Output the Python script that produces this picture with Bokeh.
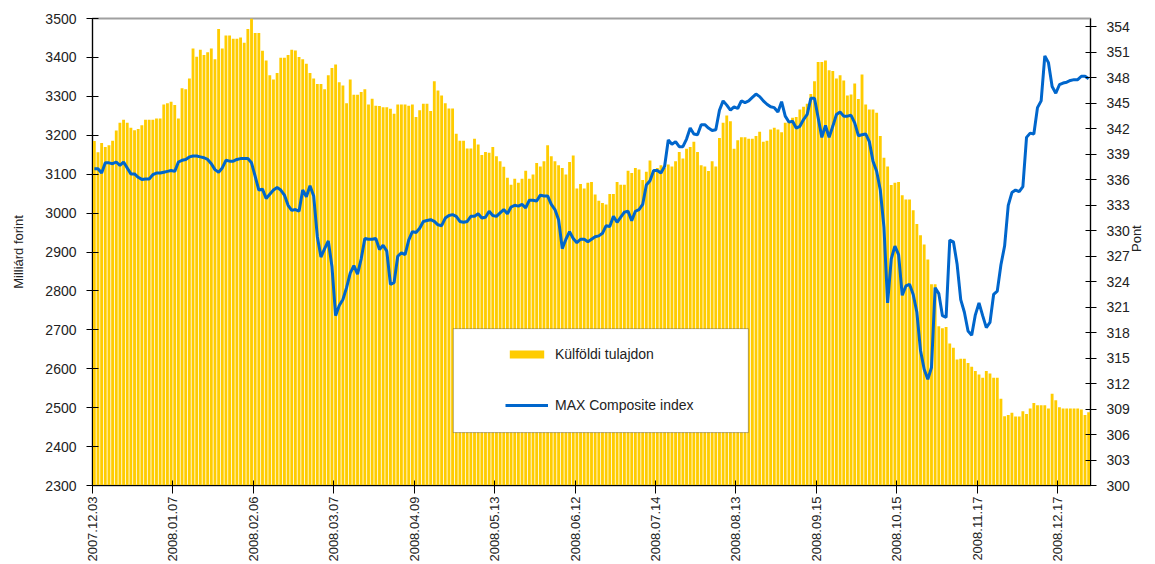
import math
from bokeh.plotting import figure
from bokeh.models import (Range1d, LinearAxis, FixedTicker, Legend, LegendItem,
                          BoxAnnotation, ColumnDataSource)
from bokeh.embed import file_html
from bokeh.resources import INLINE

# ---- data (daily values, business days 2007.12.03 - 2008.12.31) ----
tick_labels = ['2007.12.03', '2008.01.07', '2008.02.06', '2008.03.07', '2008.04.09',
               '2008.05.13', '2008.06.12', '2008.07.14', '2008.08.13', '2008.09.15',
               '2008.10.15', '2008.11.17', '2008.12.17']
tick_every = 22  # trading days between labelled ticks

# Külföldi tulajdon (Milliárd forint)
foreign_holdings = [
    3185, 3156, 3180, 3170, 3174, 3186, 3212, 3232, 3240, 3232, 3219, 3213, 3216, 3226, 3240,
    3240, 3240, 3243, 3243, 3279, 3282, 3286, 3278, 3243, 3321, 3318, 3346, 3423, 3402, 3420,
    3406, 3413, 3423, 3395, 3473, 3423, 3456, 3456, 3448, 3448, 3451, 3438, 3473, 3500, 3463,
    3463, 3417, 3392, 3354, 3343, 3360, 3399, 3399, 3406, 3420, 3418, 3401, 3395, 3384, 3360,
    3346, 3332, 3332, 3318, 3354, 3373, 3382, 3336, 3328, 3282, 3343, 3304, 3304, 3311, 3318,
    3279, 3294, 3276, 3275, 3272, 3272, 3268, 3255, 3279, 3279, 3279, 3276, 3279, 3247, 3264,
    3281, 3281, 3262, 3339, 3315, 3302, 3282, 3269, 3269, 3204, 3186, 3186, 3166, 3166, 3191,
    3176, 3149, 3157, 3155, 3170, 3146, 3133, 3119, 3091, 3073, 3088, 3078, 3088, 3109, 3088,
    3099, 3129, 3120, 3133, 3174, 3146, 3133, 3123, 3116, 3099, 3131, 3148, 3063, 3075, 3063,
    3078, 3080, 3048, 3032, 3026, 3022, 3049, 3049, 3080, 3073, 3073, 3109, 3103, 3116, 3112,
    3085, 3106, 3135, 3106, 3116, 3123, 3116, 3125, 3120, 3133, 3157, 3140, 3165, 3170, 3183,
    3157, 3123, 3120, 3108, 3133, 3120, 3193, 3232, 3251, 3236, 3165, 3187, 3195, 3195, 3191,
    3191, 3198, 3209, 3183, 3186, 3215, 3219, 3215, 3208, 3232, 3234, 3245, 3247, 3266, 3273,
    3281, 3306, 3339, 3388, 3388, 3392, 3367, 3365, 3346, 3354, 3341, 3302, 3305, 3333, 3293,
    3356, 3279, 3266, 3266, 3258, 3198, 3142, 3120, 3072, 3078, 3080, 3046, 3035, 3035, 3007,
    2972, 2943, 2919, 2881, 2817, 2817, 2709, 2704, 2707, 2665, 2654, 2624, 2626, 2626, 2615,
    2605, 2594, 2585, 2577, 2594, 2588, 2577, 2577, 2523,
    2478, 2481, 2487, 2477, 2477, 2491, 2484, 2498, 2512, 2506, 2506, 2506, 2498, 2536, 2519,
    2501, 2498, 2498, 2498, 2498, 2498, 2495, 2481, 2488,
]

# MAX Composite index (Pont)
max_index = [
    337.3, 337.3, 336.8, 338.0, 338.0, 337.9, 338.1, 337.7, 338.1, 337.4, 336.7, 336.7, 336.3,
    336.05, 336.1, 336.1, 336.6, 336.8, 336.8, 336.9, 337.0, 337.1, 337.0, 338.1, 338.3, 338.4,
    338.7, 338.8, 338.8, 338.7, 338.6, 338.4, 337.9, 337.2, 336.9, 337.4, 338.3, 338.2, 338.2,
    338.4, 338.5, 338.5, 338.5, 338.0, 336.4,
    334.8, 334.9, 333.8, 334.3, 334.8, 335.1, 334.8, 334.2, 333.0, 332.4, 332.5, 332.3, 334.8,
    334.0, 335.3, 334.1, 329.3, 326.9, 327.9, 328.8, 325.8, 320.0, 321.2, 321.9, 323.3, 325.0,
    325.9, 324.9, 326.7, 329.1, 329.0, 329.0, 329.1, 327.8, 328.3, 327.6, 323.7, 323.9, 327.0,
    327.4, 327.2, 328.9, 329.9, 329.8,
    330.3, 331.1, 331.2, 331.3, 331.1, 330.7, 330.6, 331.5, 331.8, 331.9, 331.7, 331.1, 331.0,
    331.1, 331.7, 331.7, 332.0, 331.5, 331.6, 332.3, 331.8, 331.7, 332.1, 332.5, 332.0, 332.8,
    333.0, 332.9, 333.1, 332.7, 333.6, 333.6, 333.5, 334.2, 334.1, 334.1, 333.1, 332.5, 331.3,
    327.9, 329.0, 329.9, 329.1, 328.6, 329.0,
    329.0, 328.7, 329.0, 329.3, 329.4, 329.7, 330.6, 330.5, 331.7, 331.0, 331.6, 332.2, 332.3,
    331.2, 332.3, 332.5, 333.1, 335.4, 335.9, 337.1, 337.1, 336.8, 337.6, 340.7, 340.2, 340.5,
    339.9, 339.9, 340.8, 342.1, 341.4, 341.3, 342.5, 342.5, 342.1, 341.8, 341.9, 344.2, 345.3,
    344.8, 344.2, 344.6, 344.4, 345.3, 345.1, 345.3,
    345.7, 346.1, 345.8, 345.3, 344.9, 344.6, 344.5, 344.0, 345.2, 343.5, 342.8, 342.9, 342.1,
    342.3, 343.1, 343.7, 345.6, 345.6, 343.3, 341.0, 342.4, 341.0, 342.3, 343.7, 344.0, 343.5,
    343.5, 343.6, 342.7, 341.2, 341.3, 341.4, 340.5, 338.2, 337.0, 334.8, 330.4, 321.5, 326.7,
    328.2, 327.2, 322.4, 323.5, 323.7, 322.5,
    320.4, 315.9, 313.7, 312.5, 313.9, 323.3, 322.6, 320.0, 319.8, 328.9, 328.7, 326.1, 321.9,
    320.4, 318.2, 317.7, 320.1, 321.5, 320.0, 318.6, 319.2, 322.5,
    322.9, 326.0, 328.2, 333.0, 334.5, 334.8, 334.6, 335.2, 341.0, 341.5, 341.4, 344.5, 345.3,
    350.6, 349.8, 347.0, 346.2, 347.2, 347.4, 347.5, 347.7, 347.8, 347.8, 348.2, 348.2, 347.9,
]

left_ticks = list(range(2300, 3501, 100))
right_ticks = list(range(300, 355, 3))

# ---- build ----
n = min(len(foreign_holdings), len(max_index))
src = ColumnDataSource(dict(x=[i + 0.5 for i in range(n)],
                            bar=foreign_holdings[:n], line=max_index[:n]))

TXT = "#222222"
FONT = "Liberation Sans"

p = figure(width=1155, height=564, x_range=Range1d(0, n), y_range=Range1d(2300, 3500),
           output_backend="svg", toolbar_location=None,
           min_border_left=92, min_border_right=65, min_border_top=18, min_border_bottom=79)
p.extra_y_ranges = {"pont": Range1d(300, 355)}
p.xgrid.visible = False
p.ygrid.visible = False
p.outline_line_color = "#A0A0A0"
p.outline_line_width = 2
p.background_fill_color = "white"
p.border_fill_color = "white"

bars = p.vbar(x="x", top="bar", bottom=2300, width=0.78, fill_color="#FFCC00",
              line_color=None, source=src)
line = p.line(x="x", y="line", y_range_name="pont", line_color="#0066CC",
              line_width=3, source=src)

# x axis
xa = p.xaxis[0]
xt = [i * tick_every for i in range(len(tick_labels))]
xa.ticker = FixedTicker(ticks=xt)
xa.major_label_overrides = {t: lab for t, lab in zip(xt, tick_labels)}
xa.major_label_orientation = math.pi / 2
xa.major_tick_in = 5
xa.major_tick_out = 8
xa.minor_tick_line_color = None
xa.major_label_standoff = 3
xa.axis_line_color = "black"
xa.major_tick_line_color = "black"
xa.major_label_text_font = FONT
xa.major_label_text_font_size = "13px"
xa.major_label_text_color = TXT

# left axis
ya = p.yaxis[0]
ya.ticker = FixedTicker(ticks=left_ticks)
ya.major_tick_in = 6
ya.major_tick_out = 6
ya.minor_tick_line_color = None
ya.major_label_standoff = 10
ya.axis_line_color = "black"
ya.major_tick_line_color = "black"
ya.major_label_text_font = FONT
ya.major_label_text_font_size = "14px"
ya.major_label_text_color = TXT
ya.axis_label = "Milliárd forint"
ya.axis_label_text_font = FONT
ya.axis_label_text_font_size = "13px"
ya.axis_label_text_font_style = "normal"
ya.axis_label_text_color = TXT
ya.axis_label_standoff = 16

# right axis
ra = LinearAxis(y_range_name="pont", ticker=FixedTicker(ticks=right_ticks),
                axis_label="Pont")
ra.major_tick_in = 5
ra.major_tick_out = 6
ra.minor_tick_line_color = None
ra.major_label_standoff = 10
ra.axis_line_color = "black"
ra.major_tick_line_color = "black"
ra.major_label_text_font = FONT
ra.major_label_text_font_size = "14px"
ra.major_label_text_color = TXT
ra.axis_label_text_font = FONT
ra.axis_label_text_font_size = "13px"
ra.axis_label_text_font_style = "normal"
ra.axis_label_text_color = TXT
ra.axis_label_standoff = 4
try:
    ra.axis_label_orientation = math.pi / 2
except Exception:
    pass
p.add_layout(ra, "right")

# legend frame + legend
box = BoxAnnotation(left=98.7, right=179.4, bottom=2436, top=2703,
                    fill_color="white", fill_alpha=1.0, line_color="black", line_width=1)
p.add_layout(box)
legend = Legend(items=[LegendItem(label="Külföldi tulajdon", renderers=[bars]),
                       LegendItem(label="MAX Composite index", renderers=[line])],
                location=(413, 70), padding=0, spacing=31, glyph_width=43, glyph_height=10,
                label_height=20, label_standoff=7, label_text_font=FONT,
                label_text_font_size="14px", label_text_color=TXT,
                background_fill_alpha=0, border_line_color=None)
p.add_layout(legend)

open("out.html", "w").write(file_html(p, INLINE))
